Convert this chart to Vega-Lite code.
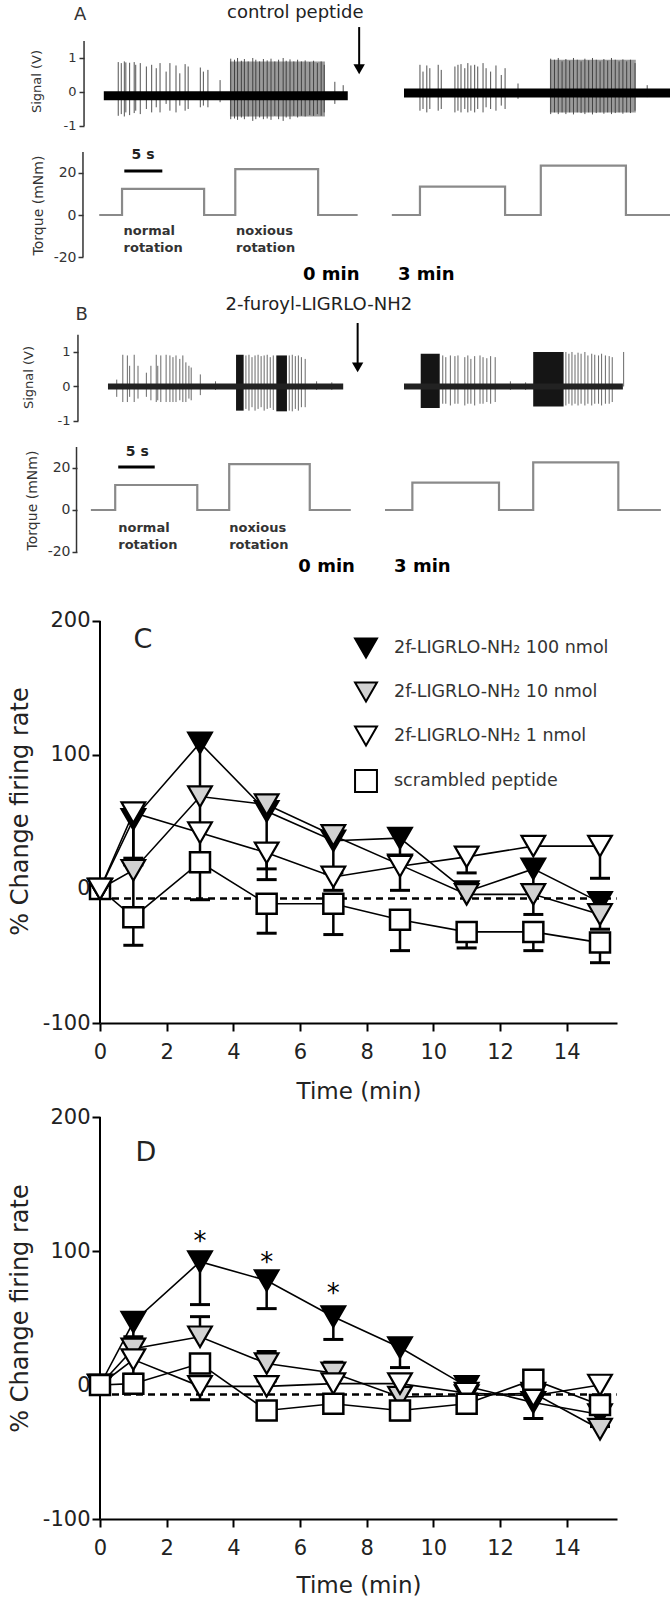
{
"$schema": "https://vega.github.io/schema/vega-lite/v6.json",
"padding": {"left": 8, "top": 0, "right": 0, "bottom": 0},
"background": "white",
"spacing": 0,
"bounds": "flush",
"config": {
  "font": "DejaVu Sans",
  "view": {"stroke": null},
  "axis": {"grid": false, "labelFont": "DejaVu Sans", "titleFont": "DejaVu Sans", "titleFontWeight": "normal", "labelFlush": false},
  "text": {"font": "DejaVu Sans"}
},
"resolve": {"scale": {"shape": "independent", "fill": "independent", "stroke": "independent"}, "legend": {"shape": "independent", "fill": "independent", "stroke": "independent"}},
"datasets": {
  "sigA": [
    {"t":2.4,"hi":0.88,"lo":-0.7},{"t":2.8,"hi":0.85,"lo":-0.65},{"t":3.2,"hi":0.9,"lo":-0.72},{"t":3.4,"hi":0.87,"lo":-0.6},{"t":3.9,"hi":0.86,"lo":-0.68},{"t":4.5,"hi":0.88,"lo":-0.62},{"t":4.7,"hi":0.8,"lo":-0.55},{"t":5.3,"hi":0.85,"lo":-0.65},{"t":6.1,"hi":0.75,"lo":-0.5},{"t":6.8,"hi":0.8,"lo":-0.6},{"t":7.4,"hi":0.7,"lo":-0.45},{"t":7.9,"hi":0.85,"lo":-0.6},{"t":8.7,"hi":0.6,"lo":-0.35},{"t":9.2,"hi":0.85,"lo":-0.55},{"t":10.0,"hi":0.78,"lo":-0.6},{"t":10.5,"hi":0.55,"lo":-0.4},{"t":11.2,"hi":0.82,"lo":-0.55},{"t":11.6,"hi":0.75,"lo":-0.5},{"t":13.2,"hi":0.72,"lo":-0.45},{"t":13.6,"hi":0.6,"lo":-0.4},{"t":14.2,"hi":0.65,"lo":-0.45},{"t":15.8,"hi":0.35,"lo":-0.3},
    {"t":17.2,"hi":0.98,"lo":-0.8},{"t":17.7,"hi":0.95,"lo":-0.78},{"t":18.1,"hi":1.0,"lo":-0.82},{"t":18.6,"hi":0.92,"lo":-0.75},{"t":19.0,"hi":0.97,"lo":-0.8},{"t":19.5,"hi":0.9,"lo":-0.72},{"t":20.1,"hi":1.0,"lo":-0.85},{"t":20.5,"hi":0.95,"lo":-0.8},{"t":21.0,"hi":0.9,"lo":-0.75},{"t":21.5,"hi":0.97,"lo":-0.8},{"t":22.0,"hi":0.93,"lo":-0.78},{"t":22.5,"hi":0.98,"lo":-0.82},{"t":23.0,"hi":0.9,"lo":-0.7},{"t":23.5,"hi":0.95,"lo":-0.8},{"t":24.1,"hi":1.0,"lo":-0.85},{"t":24.5,"hi":0.92,"lo":-0.75},{"t":25.0,"hi":0.96,"lo":-0.8},{"t":25.5,"hi":0.9,"lo":-0.7},{"t":26.0,"hi":0.95,"lo":-0.75},{"t":26.5,"hi":0.9,"lo":-0.7},{"t":27.0,"hi":0.93,"lo":-0.72},{"t":27.6,"hi":0.88,"lo":-0.68},{"t":28.1,"hi":0.92,"lo":-0.7},{"t":28.6,"hi":0.85,"lo":-0.65},{"t":29.1,"hi":0.9,"lo":-0.7},{"t":29.5,"hi":0.8,"lo":-0.6},{"t":30.9,"hi":0.3,"lo":-0.35},{"t":32.0,"hi":0.2,"lo":-0.2},
    {"t":42.1,"hi":0.8,"lo":-0.55},{"t":42.5,"hi":0.6,"lo":-0.5},{"t":43.0,"hi":0.78,"lo":-0.6},{"t":43.4,"hi":0.7,"lo":-0.5},{"t":44.5,"hi":0.8,"lo":-0.55},{"t":44.9,"hi":0.65,"lo":-0.5},{"t":46.7,"hi":0.75,"lo":-0.6},{"t":47.1,"hi":0.8,"lo":-0.55},{"t":47.5,"hi":0.82,"lo":-0.6},{"t":48.0,"hi":0.7,"lo":-0.5},{"t":48.4,"hi":0.85,"lo":-0.6},{"t":48.8,"hi":0.78,"lo":-0.55},{"t":49.3,"hi":0.8,"lo":-0.6},{"t":49.7,"hi":0.75,"lo":-0.5},{"t":50.4,"hi":0.85,"lo":-0.6},{"t":50.8,"hi":0.7,"lo":-0.45},{"t":51.4,"hi":0.6,"lo":-0.5},{"t":52.1,"hi":0.78,"lo":-0.55},{"t":52.8,"hi":0.5,"lo":-0.4},{"t":53.3,"hi":0.7,"lo":-0.5},{"t":55.0,"hi":0.25,"lo":-0.2},
    {"t":59.3,"hi":0.98,"lo":-0.65},{"t":59.8,"hi":0.95,"lo":-0.6},{"t":60.3,"hi":1.0,"lo":-0.65},{"t":60.8,"hi":0.9,"lo":-0.6},{"t":61.3,"hi":0.97,"lo":-0.65},{"t":61.8,"hi":0.92,"lo":-0.6},{"t":62.3,"hi":1.0,"lo":-0.66},{"t":62.8,"hi":0.95,"lo":-0.6},{"t":63.3,"hi":0.9,"lo":-0.62},{"t":63.8,"hi":0.98,"lo":-0.65},{"t":64.3,"hi":0.93,"lo":-0.6},{"t":64.8,"hi":1.0,"lo":-0.66},{"t":65.3,"hi":0.95,"lo":-0.62},{"t":65.8,"hi":0.9,"lo":-0.6},{"t":66.3,"hi":0.97,"lo":-0.64},{"t":66.8,"hi":0.92,"lo":-0.6},{"t":67.3,"hi":1.0,"lo":-0.65},{"t":67.8,"hi":0.95,"lo":-0.62},{"t":68.3,"hi":0.9,"lo":-0.6},{"t":68.8,"hi":0.96,"lo":-0.64},{"t":69.3,"hi":0.9,"lo":-0.6},{"t":69.8,"hi":0.95,"lo":-0.62},{"t":70.4,"hi":0.85,"lo":-0.55},{"t":72.0,"hi":0.2,"lo":-0.15}
  ],
  "burstA": [{"t":17.1,"t2":29.6,"hi":0.9,"lo":-0.72},{"t":59.2,"t2":70.5,"hi":0.95,"lo":-0.6}],
  "baseA": [{"t":0.5,"t2":32.6,"level":-0.11},{"t":40,"t2":75,"level":-0.03}],
  "torqueA": [{"seg":"L","t":-0.1,"tq":0},{"seg":"L","t":2.9,"tq":12.4},{"seg":"L","t":13.7,"tq":0},{"seg":"L","t":17.8,"tq":21.8},{"seg":"L","t":28.7,"tq":0},{"seg":"L","t":33.9,"tq":0},{"seg":"R","t":38.4,"tq":0},{"seg":"R","t":42.1,"tq":13.5},{"seg":"R","t":53.3,"tq":0},{"seg":"R","t":58.0,"tq":23.5},{"seg":"R","t":69.2,"tq":0},{"seg":"R","t":75,"tq":0}],
  "sigB": [
    {"t":2.2,"hi":0.2,"lo":-0.3},{"t":3.0,"hi":0.92,"lo":-0.45},{"t":3.6,"hi":0.9,"lo":-0.45},{"t":3.9,"hi":0.6,"lo":-0.3},{"t":4.5,"hi":0.92,"lo":-0.45},{"t":5.0,"hi":0.6,"lo":-0.35},{"t":6.1,"hi":0.4,"lo":-0.3},{"t":6.7,"hi":0.6,"lo":-0.4},{"t":7.4,"hi":0.92,"lo":-0.45},{"t":7.6,"hi":0.6,"lo":-0.4},{"t":8.0,"hi":0.9,"lo":-0.45},{"t":8.7,"hi":0.92,"lo":-0.45},{"t":9.2,"hi":0.9,"lo":-0.45},{"t":9.6,"hi":0.85,"lo":-0.45},{"t":10.0,"hi":0.9,"lo":-0.45},{"t":10.5,"hi":0.8,"lo":-0.4},{"t":10.9,"hi":0.9,"lo":-0.45},{"t":11.3,"hi":0.7,"lo":-0.45},{"t":11.7,"hi":0.6,"lo":-0.35},{"t":12.0,"hi":0.55,"lo":-0.4},{"t":13.2,"hi":0.35,"lo":-0.25},{"t":15.2,"hi":0.15,"lo":-0.1},
    {"t":19.2,"hi":0.9,"lo":-0.65},{"t":19.6,"hi":0.92,"lo":-0.7},{"t":20.0,"hi":0.85,"lo":-0.6},{"t":20.4,"hi":0.9,"lo":-0.7},{"t":20.8,"hi":0.92,"lo":-0.65},{"t":21.2,"hi":0.88,"lo":-0.6},{"t":21.6,"hi":0.9,"lo":-0.7},{"t":22.0,"hi":0.92,"lo":-0.65},{"t":22.4,"hi":0.85,"lo":-0.62},{"t":22.8,"hi":0.9,"lo":-0.68},{"t":24.9,"hi":0.9,"lo":-0.7},{"t":25.3,"hi":0.92,"lo":-0.72},{"t":25.7,"hi":0.88,"lo":-0.65},{"t":26.1,"hi":0.9,"lo":-0.7},{"t":26.5,"hi":0.85,"lo":-0.6},{"t":27.0,"hi":0.8,"lo":-0.6},{"t":28.5,"hi":0.15,"lo":-0.1},{"t":30.5,"hi":0.12,"lo":-0.1},
    {"t":45.1,"hi":0.9,"lo":-0.5},{"t":45.5,"hi":0.85,"lo":-0.5},{"t":46.1,"hi":0.9,"lo":-0.55},{"t":46.7,"hi":0.88,"lo":-0.5},{"t":47.1,"hi":0.9,"lo":-0.5},{"t":48.0,"hi":0.85,"lo":-0.55},{"t":48.4,"hi":0.9,"lo":-0.5},{"t":48.8,"hi":0.8,"lo":-0.5},{"t":49.3,"hi":0.88,"lo":-0.55},{"t":50.0,"hi":0.9,"lo":-0.5},{"t":50.4,"hi":0.85,"lo":-0.5},{"t":50.9,"hi":0.82,"lo":-0.45},{"t":51.4,"hi":0.88,"lo":-0.5},{"t":52.0,"hi":0.85,"lo":-0.45},{"t":54.0,"hi":0.15,"lo":-0.1},{"t":56.0,"hi":0.12,"lo":-0.1},
    {"t":61.3,"hi":1.0,"lo":-0.55},{"t":61.7,"hi":0.95,"lo":-0.5},{"t":62.1,"hi":1.0,"lo":-0.55},{"t":62.5,"hi":0.92,"lo":-0.5},{"t":62.9,"hi":0.98,"lo":-0.55},{"t":63.3,"hi":0.95,"lo":-0.5},{"t":63.8,"hi":1.0,"lo":-0.55},{"t":64.2,"hi":0.9,"lo":-0.5},{"t":64.7,"hi":0.95,"lo":-0.55},{"t":65.1,"hi":0.92,"lo":-0.5},{"t":65.6,"hi":0.9,"lo":-0.5},{"t":66.0,"hi":0.95,"lo":-0.55},{"t":66.5,"hi":0.9,"lo":-0.5},{"t":67.0,"hi":0.88,"lo":-0.5},{"t":67.4,"hi":0.85,"lo":-0.45},{"t":68.9,"hi":1.0,"lo":0}
  ],
  "burstB": [{"t":17.9,"t2":18.9,"hi":0.92,"lo":-0.7},{"t":23.2,"t2":24.6,"hi":0.9,"lo":-0.72},{"t":42.2,"t2":44.7,"hi":0.95,"lo":-0.62},{"t":57.0,"t2":61.0,"hi":1.0,"lo":-0.58}],
  "baseB": [{"t":1.05,"t2":32.0,"level":0},{"t":40,"t2":68.8,"level":0}],
  "torqueB": [{"seg":"L","t":-1.2,"tq":0},{"seg":"L","t":2.0,"tq":11.9},{"seg":"L","t":12.8,"tq":0},{"seg":"L","t":17.0,"tq":21.8},{"seg":"L","t":27.6,"tq":0},{"seg":"L","t":33.0,"tq":0},{"seg":"R","t":37.5,"tq":0},{"seg":"R","t":41.1,"tq":13},{"seg":"R","t":52.5,"tq":0},{"seg":"R","t":57.0,"tq":22.7},{"seg":"R","t":68.2,"tq":0},{"seg":"R","t":73.8,"tq":0}],
  "ratesC": [
    {"series":"2f-LIGRLO-NH₂ 100 nmol","t":0,"v":0},{"series":"2f-LIGRLO-NH₂ 100 nmol","t":1,"v":52},{"series":"2f-LIGRLO-NH₂ 100 nmol","t":3,"v":109},{"series":"2f-LIGRLO-NH₂ 100 nmol","t":5,"v":58},{"series":"2f-LIGRLO-NH₂ 100 nmol","t":7,"v":36},{"series":"2f-LIGRLO-NH₂ 100 nmol","t":9,"v":38},{"series":"2f-LIGRLO-NH₂ 100 nmol","t":11,"v":-2},{"series":"2f-LIGRLO-NH₂ 100 nmol","t":13,"v":15},{"series":"2f-LIGRLO-NH₂ 100 nmol","t":15,"v":-10},
    {"series":"2f-LIGRLO-NH₂ 10 nmol","t":0,"v":0},{"series":"2f-LIGRLO-NH₂ 10 nmol","t":1,"v":14},{"series":"2f-LIGRLO-NH₂ 10 nmol","t":3,"v":69},{"series":"2f-LIGRLO-NH₂ 10 nmol","t":5,"v":63},{"series":"2f-LIGRLO-NH₂ 10 nmol","t":7,"v":40},{"series":"2f-LIGRLO-NH₂ 10 nmol","t":9,"v":18},{"series":"2f-LIGRLO-NH₂ 10 nmol","t":11,"v":-4},{"series":"2f-LIGRLO-NH₂ 10 nmol","t":13,"v":-4},{"series":"2f-LIGRLO-NH₂ 10 nmol","t":15,"v":-19},
    {"series":"2f-LIGRLO-NH₂ 1 nmol","t":0,"v":0},{"series":"2f-LIGRLO-NH₂ 1 nmol","t":1,"v":57},{"series":"2f-LIGRLO-NH₂ 1 nmol","t":3,"v":42},{"series":"2f-LIGRLO-NH₂ 1 nmol","t":5,"v":27},{"series":"2f-LIGRLO-NH₂ 1 nmol","t":7,"v":9},{"series":"2f-LIGRLO-NH₂ 1 nmol","t":9,"v":17},{"series":"2f-LIGRLO-NH₂ 1 nmol","t":11,"v":24},{"series":"2f-LIGRLO-NH₂ 1 nmol","t":13,"v":32},{"series":"2f-LIGRLO-NH₂ 1 nmol","t":15,"v":32},
    {"series":"scrambled peptide","t":0,"v":0},{"series":"scrambled peptide","t":1,"v":-21},{"series":"scrambled peptide","t":3,"v":20},{"series":"scrambled peptide","t":5,"v":-11},{"series":"scrambled peptide","t":7,"v":-11},{"series":"scrambled peptide","t":9,"v":-23},{"series":"scrambled peptide","t":11,"v":-32},{"series":"scrambled peptide","t":13,"v":-32},{"series":"scrambled peptide","t":15,"v":-40}
  ],
  "errC": [
    {"series":"2f-LIGRLO-NH₂ 100 nmol","t":1,"v":52,"end":18},{"series":"2f-LIGRLO-NH₂ 100 nmol","t":3,"v":109,"end":-8},{"series":"2f-LIGRLO-NH₂ 100 nmol","t":5,"v":58,"end":7},{"series":"2f-LIGRLO-NH₂ 100 nmol","t":7,"v":36,"end":12},{"series":"2f-LIGRLO-NH₂ 100 nmol","t":9,"v":38,"end":-1},{"series":"2f-LIGRLO-NH₂ 100 nmol","t":13,"v":15,"end":-19},
    {"series":"2f-LIGRLO-NH₂ 10 nmol","t":1,"v":14,"end":-14},{"series":"2f-LIGRLO-NH₂ 10 nmol","t":9,"v":18,"end":24},{"series":"2f-LIGRLO-NH₂ 10 nmol","t":15,"v":-19,"end":-30},
    {"series":"2f-LIGRLO-NH₂ 1 nmol","t":1,"v":57,"end":23},{"series":"2f-LIGRLO-NH₂ 1 nmol","t":5,"v":27,"end":15},{"series":"2f-LIGRLO-NH₂ 1 nmol","t":7,"v":9,"end":-1},{"series":"2f-LIGRLO-NH₂ 1 nmol","t":11,"v":24,"end":12},{"series":"2f-LIGRLO-NH₂ 1 nmol","t":15,"v":32,"end":8},
    {"series":"scrambled peptide","t":1,"v":-21,"end":-42},{"series":"scrambled peptide","t":3,"v":20,"end":27},{"series":"scrambled peptide","t":3,"v":20,"end":13},{"series":"scrambled peptide","t":5,"v":-11,"end":-33},{"series":"scrambled peptide","t":7,"v":-11,"end":-34},{"series":"scrambled peptide","t":9,"v":-23,"end":-46},{"series":"scrambled peptide","t":11,"v":-32,"end":-44},{"series":"scrambled peptide","t":13,"v":-32,"end":-46},{"series":"scrambled peptide","t":15,"v":-40,"end":-55}
  ],
  "ratesD": [
    {"series":"2f-LIGRLO-NH₂ 100 nmol","t":0,"v":0},{"series":"2f-LIGRLO-NH₂ 100 nmol","t":1,"v":47},{"series":"2f-LIGRLO-NH₂ 100 nmol","t":3,"v":92},{"series":"2f-LIGRLO-NH₂ 100 nmol","t":5,"v":78},{"series":"2f-LIGRLO-NH₂ 100 nmol","t":7,"v":51},{"series":"2f-LIGRLO-NH₂ 100 nmol","t":9,"v":28},{"series":"2f-LIGRLO-NH₂ 100 nmol","t":11,"v":-1},{"series":"2f-LIGRLO-NH₂ 100 nmol","t":13,"v":-13},{"series":"2f-LIGRLO-NH₂ 100 nmol","t":15,"v":-22},
    {"series":"2f-LIGRLO-NH₂ 10 nmol","t":0,"v":0},{"series":"2f-LIGRLO-NH₂ 10 nmol","t":1,"v":27},{"series":"2f-LIGRLO-NH₂ 10 nmol","t":3,"v":36},{"series":"2f-LIGRLO-NH₂ 10 nmol","t":5,"v":16},{"series":"2f-LIGRLO-NH₂ 10 nmol","t":7,"v":9},{"series":"2f-LIGRLO-NH₂ 10 nmol","t":9,"v":-9},{"series":"2f-LIGRLO-NH₂ 10 nmol","t":11,"v":-8},{"series":"2f-LIGRLO-NH₂ 10 nmol","t":13,"v":-6},{"series":"2f-LIGRLO-NH₂ 10 nmol","t":15,"v":-33},
    {"series":"2f-LIGRLO-NH₂ 1 nmol","t":0,"v":0},{"series":"2f-LIGRLO-NH₂ 1 nmol","t":1,"v":19},{"series":"2f-LIGRLO-NH₂ 1 nmol","t":3,"v":-1},{"series":"2f-LIGRLO-NH₂ 1 nmol","t":5,"v":-1},{"series":"2f-LIGRLO-NH₂ 1 nmol","t":7,"v":1},{"series":"2f-LIGRLO-NH₂ 1 nmol","t":9,"v":1},{"series":"2f-LIGRLO-NH₂ 1 nmol","t":11,"v":-6},{"series":"2f-LIGRLO-NH₂ 1 nmol","t":13,"v":-8},{"series":"2f-LIGRLO-NH₂ 1 nmol","t":15,"v":0},
    {"series":"scrambled peptide","t":0,"v":0},{"series":"scrambled peptide","t":1,"v":1},{"series":"scrambled peptide","t":3,"v":16},{"series":"scrambled peptide","t":5,"v":-19},{"series":"scrambled peptide","t":7,"v":-14},{"series":"scrambled peptide","t":9,"v":-19},{"series":"scrambled peptide","t":11,"v":-14},{"series":"scrambled peptide","t":13,"v":4},{"series":"scrambled peptide","t":15,"v":-15}
  ],
  "errD": [
    {"series":"2f-LIGRLO-NH₂ 100 nmol","t":1,"v":47,"end":36},{"series":"2f-LIGRLO-NH₂ 100 nmol","t":3,"v":92,"end":60},{"series":"2f-LIGRLO-NH₂ 100 nmol","t":5,"v":78,"end":57},{"series":"2f-LIGRLO-NH₂ 100 nmol","t":7,"v":51,"end":34},{"series":"2f-LIGRLO-NH₂ 100 nmol","t":9,"v":28,"end":13},{"series":"2f-LIGRLO-NH₂ 100 nmol","t":11,"v":-1,"end":-21},{"series":"2f-LIGRLO-NH₂ 100 nmol","t":13,"v":-13,"end":-25},{"series":"2f-LIGRLO-NH₂ 100 nmol","t":15,"v":-22,"end":-31},
    {"series":"2f-LIGRLO-NH₂ 10 nmol","t":3,"v":36,"end":51},{"series":"2f-LIGRLO-NH₂ 10 nmol","t":5,"v":16,"end":25},{"series":"2f-LIGRLO-NH₂ 10 nmol","t":7,"v":9,"end":17},
    {"series":"2f-LIGRLO-NH₂ 1 nmol","t":1,"v":19,"end":8},{"series":"2f-LIGRLO-NH₂ 1 nmol","t":3,"v":-1,"end":-11},{"series":"2f-LIGRLO-NH₂ 1 nmol","t":5,"v":-1,"end":3},
    {"series":"scrambled peptide","t":9,"v":-19,"end":-26},{"series":"scrambled peptide","t":11,"v":-14,"end":-21}
  ],
  "starsD": [{"t":3,"v":101},{"t":5,"v":85},{"t":7,"v":62}]
},
"vconcat": [
  {
    "width": 570, "height": 140,
    "layer": [
      {"data": {"values": [{}]}, "mark": {"type": "rule", "color": "#333", "strokeWidth": 1.5},
       "encoding": {
         "x": {"datum": -2.1, "type": "quantitative", "scale": {"domain": [0, 75], "nice": false, "zero": false}, "axis": null},
         "y": {"datum": -1, "type": "quantitative", "scale": {"domain": [-1.412, 2.706], "nice": false, "zero": false},
               "axis": {"title": "Signal (V)", "values": [-1, 0, 1], "domain": false, "offset": 16, "tickSize": 5, "tickColor": "#333", "tickWidth": 1.5, "labelFontSize": 13, "labelColor": "#333", "labelPadding": 3, "labelExpr": "'' + datum.value", "titleFontSize": 13, "titleColor": "#333", "titleY": 81, "titlePadding": 20}},
         "y2": {"datum": 1.5}}},
      {"data": {"name": "burstA"}, "mark": {"type": "rect", "color": "#9a9a9a"},
       "encoding": {"x": {"field": "t", "type": "quantitative", "axis": null}, "x2": {"field": "t2"}, "y": {"field": "hi", "type": "quantitative"}, "y2": {"field": "lo"}}},
      {"data": {"name": "sigA"}, "mark": {"type": "rule", "color": "#333", "strokeWidth": 1, "opacity": 0.85},
       "encoding": {"x": {"field": "t", "type": "quantitative", "axis": null}, "y": {"field": "hi", "type": "quantitative"}, "y2": {"field": "lo"}}},
      {"data": {"name": "baseA"}, "mark": {"type": "rule", "color": "black", "strokeWidth": 9},
       "encoding": {"x": {"field": "t", "type": "quantitative", "axis": null}, "x2": {"field": "t2"}, "y": {"field": "level", "type": "quantitative"}}},
      {"data": {"values": [{}]}, "mark": {"type": "rule", "color": "black", "strokeWidth": 2},
       "encoding": {"x": {"datum": 34.1, "axis": null}, "y": {"datum": 1.91}, "y2": {"datum": 0.67}}},
      {"data": {"values": [{}]}, "mark": {"type": "point", "shape": "triangle-down", "filled": true, "size": 130, "color": "black", "opacity": 1},
       "encoding": {"x": {"datum": 34.1, "axis": null}, "y": {"datum": 0.67}}},
      {"data": {"values": [{}]}, "mark": {"type": "text", "text": "A", "fontSize": 18, "color": "#333", "align": "center", "baseline": "middle"},
       "encoding": {"x": {"datum": -2.6, "axis": null}, "y": {"datum": 2.26}}},
      {"data": {"values": [{}]}, "mark": {"type": "text", "text": "control peptide", "fontSize": 18, "color": "#222", "align": "center", "baseline": "middle"},
       "encoding": {"x": {"datum": 25.7, "axis": null}, "y": {"datum": 2.32}}}
    ]
  },
  {
    "width": 570, "height": 150,
    "layer": [
      {"data": {"values": [{}]}, "mark": {"type": "rule", "color": "#333", "strokeWidth": 1.5},
       "encoding": {
         "x": {"datum": -2.24, "type": "quantitative", "scale": {"domain": [0, 75], "nice": false, "zero": false}, "axis": null},
         "y": {"datum": -20, "type": "quantitative", "scale": {"domain": [-35.71, 35.71], "nice": false, "zero": false},
               "axis": {"title": "Torque (mNm)", "values": [-20, 0, 20], "domain": false, "offset": 17, "tickSize": 5, "tickColor": "#333", "tickWidth": 1.5, "labelFontSize": 14, "labelColor": "#333", "labelPadding": 2, "labelExpr": "'' + datum.value", "titleFontSize": 14, "titleColor": "#333", "titleY": 65, "titlePadding": 8}},
         "y2": {"datum": 30}}},
      {"data": {"name": "torqueA"}, "mark": {"type": "line", "color": "#8a8a8a", "strokeWidth": 2.2, "interpolate": "step-after"},
       "encoding": {"x": {"field": "t", "type": "quantitative", "axis": null}, "y": {"field": "tq", "type": "quantitative"}, "detail": {"field": "seg"}}},
      {"data": {"values": [{}]}, "mark": {"type": "rule", "color": "black", "strokeWidth": 3},
       "encoding": {"x": {"datum": 3.2, "axis": null}, "x2": {"datum": 8.2}, "y": {"datum": 21}}},
      {"data": {"values": [{}]}, "mark": {"type": "text", "text": "5 s", "fontSize": 14, "fontWeight": "bold", "color": "#222", "align": "center", "baseline": "middle"},
       "encoding": {"x": {"datum": 5.66, "axis": null}, "y": {"datum": 28.6}}},
      {"data": {"values": [{}]}, "mark": {"type": "text", "text": ["normal", "rotation"], "lineHeight": 17, "fontSize": 13, "fontWeight": "bold", "color": "#333", "align": "left", "baseline": "top"},
       "encoding": {"x": {"datum": 3.1, "axis": null}, "y": {"datum": -4.8}}},
      {"data": {"values": [{}]}, "mark": {"type": "text", "text": ["noxious", "rotation"], "lineHeight": 17, "fontSize": 13, "fontWeight": "bold", "color": "#333", "align": "left", "baseline": "top"},
       "encoding": {"x": {"datum": 17.9, "axis": null}, "y": {"datum": -4.8}}},
      {"data": {"values": [{}]}, "mark": {"type": "text", "text": "0 min", "fontSize": 18, "fontWeight": "bold", "color": "black", "align": "left", "baseline": "middle"},
       "encoding": {"x": {"datum": 26.7, "axis": null}, "y": {"datum": -28.6}}},
      {"data": {"values": [{}]}, "mark": {"type": "text", "text": "3 min", "fontSize": 18, "fontWeight": "bold", "color": "black", "align": "left", "baseline": "middle"},
       "encoding": {"x": {"datum": 39.2, "axis": null}, "y": {"datum": -28.6}}}
    ]
  },
  {
    "width": 570, "height": 142,
    "layer": [
      {"data": {"values": [{}]}, "mark": {"type": "rule", "color": "#333", "strokeWidth": 1.5},
       "encoding": {
         "x": {"datum": -2.9, "type": "quantitative", "scale": {"domain": [0, 75], "nice": false, "zero": false}, "axis": null},
         "y": {"datum": -1, "type": "quantitative", "scale": {"domain": [-1.319, 2.797], "nice": false, "zero": false},
               "axis": {"title": "Signal (V)", "values": [-1, 0, 1], "domain": false, "offset": 22, "tickSize": 5, "tickColor": "#333", "tickWidth": 1.5, "labelFontSize": 13, "labelColor": "#333", "labelPadding": 3, "labelExpr": "'' + datum.value", "titleFontSize": 13, "titleColor": "#333", "titleY": 87, "titlePadding": 22}},
         "y2": {"datum": 1.5}}},
      {"data": {"name": "burstB"}, "mark": {"type": "rect", "color": "#151515"},
       "encoding": {"x": {"field": "t", "type": "quantitative", "axis": null}, "x2": {"field": "t2"}, "y": {"field": "hi", "type": "quantitative"}, "y2": {"field": "lo"}}},
      {"data": {"name": "sigB"}, "mark": {"type": "rule", "color": "#444", "strokeWidth": 1, "opacity": 0.8},
       "encoding": {"x": {"field": "t", "type": "quantitative", "axis": null}, "y": {"field": "hi", "type": "quantitative"}, "y2": {"field": "lo"}}},
      {"data": {"name": "baseB"}, "mark": {"type": "rule", "color": "#222", "strokeWidth": 6},
       "encoding": {"x": {"field": "t", "type": "quantitative", "axis": null}, "x2": {"field": "t2"}, "y": {"field": "level", "type": "quantitative"}}},
      {"data": {"values": [{}]}, "mark": {"type": "rule", "color": "black", "strokeWidth": 2},
       "encoding": {"x": {"datum": 33.9, "axis": null}, "y": {"datum": 1.84}, "y2": {"datum": 0.556}}},
      {"data": {"values": [{}]}, "mark": {"type": "point", "shape": "triangle-down", "filled": true, "size": 130, "color": "black", "opacity": 1},
       "encoding": {"x": {"datum": 33.9, "axis": null}, "y": {"datum": 0.556}}},
      {"data": {"values": [{}]}, "mark": {"type": "text", "text": "B", "fontSize": 18, "color": "#333", "align": "center", "baseline": "middle"},
       "encoding": {"x": {"datum": -2.4, "axis": null}, "y": {"datum": 2.07}}},
      {"data": {"values": [{}]}, "mark": {"type": "text", "text": "2-furoyl-LIGRLO-NH2", "fontSize": 18, "color": "#222", "align": "center", "baseline": "middle"},
       "encoding": {"x": {"datum": 28.8, "axis": null}, "y": {"datum": 2.36}}}
    ]
  },
  {
    "width": 570, "height": 168,
    "layer": [
      {"data": {"values": [{}]}, "mark": {"type": "rule", "color": "#333", "strokeWidth": 1.5},
       "encoding": {
         "x": {"datum": -3.09, "type": "quantitative", "scale": {"domain": [0, 75], "nice": false, "zero": false}, "axis": null},
         "y": {"datum": -20, "type": "quantitative", "scale": {"domain": [-42.86, 37.14], "nice": false, "zero": false},
               "axis": {"title": "Torque (mNm)", "values": [-20, 0, 20], "domain": false, "offset": 23, "tickSize": 5, "tickColor": "#333", "tickWidth": 1.5, "labelFontSize": 14, "labelColor": "#333", "labelPadding": 2, "labelExpr": "'' + datum.value", "titleFontSize": 14, "titleColor": "#333", "titleY": 68, "titlePadding": 8}},
         "y2": {"datum": 30}}},
      {"data": {"name": "torqueB"}, "mark": {"type": "line", "color": "#8a8a8a", "strokeWidth": 2.2, "interpolate": "step-after"},
       "encoding": {"x": {"field": "t", "type": "quantitative", "axis": null}, "y": {"field": "tq", "type": "quantitative"}, "detail": {"field": "seg"}}},
      {"data": {"values": [{}]}, "mark": {"type": "rule", "color": "black", "strokeWidth": 3},
       "encoding": {"x": {"datum": 2.4, "axis": null}, "x2": {"datum": 7.2}, "y": {"datum": 20.5}}},
      {"data": {"values": [{}]}, "mark": {"type": "text", "text": "5 s", "fontSize": 14, "fontWeight": "bold", "color": "#222", "align": "center", "baseline": "middle"},
       "encoding": {"x": {"datum": 4.9, "axis": null}, "y": {"datum": 27.8}}},
      {"data": {"values": [{}]}, "mark": {"type": "text", "text": ["normal", "rotation"], "lineHeight": 17, "fontSize": 13, "fontWeight": "bold", "color": "#333", "align": "left", "baseline": "top"},
       "encoding": {"x": {"datum": 2.4, "axis": null}, "y": {"datum": -5.7}}},
      {"data": {"values": [{}]}, "mark": {"type": "text", "text": ["noxious", "rotation"], "lineHeight": 17, "fontSize": 13, "fontWeight": "bold", "color": "#333", "align": "left", "baseline": "top"},
       "encoding": {"x": {"datum": 17.0, "axis": null}, "y": {"datum": -5.7}}},
      {"data": {"values": [{}]}, "mark": {"type": "text", "text": "0 min", "fontSize": 18, "fontWeight": "bold", "color": "black", "align": "left", "baseline": "middle"},
       "encoding": {"x": {"datum": 26.1, "axis": null}, "y": {"datum": -27.1}}},
      {"data": {"values": [{}]}, "mark": {"type": "text", "text": "3 min", "fontSize": 18, "fontWeight": "bold", "color": "black", "align": "left", "baseline": "middle"},
       "encoding": {"x": {"datum": 38.7, "axis": null}, "y": {"datum": -27.1}}}
    ]
  },
  {
    "width": 517, "height": 423,
    "layer": [
      {"data": {"values": [{}]}, "mark": {"type": "rule", "color": "black", "strokeWidth": 2},
       "encoding": {"x": {"datum": 0}, "y": {"datum": -100}, "y2": {"datum": 200}}},
      {"data": {"values": [{}]}, "mark": {"type": "rule", "color": "black", "strokeWidth": 2.5, "strokeDash": [7, 5]},
       "encoding": {"x": {"datum": 0}, "x2": {"datum": 15.5}, "y": {"datum": -7}}},
      {"data": {"name": "ratesC"}, "mark": {"type": "line", "color": "black", "strokeWidth": 1.6},
       "encoding": {
         "x": {"field": "t", "type": "quantitative", "scale": {"domain": [0, 15.51], "nice": false, "zero": false},
               "axis": {"title": "Time (min)", "values": [0, 2, 4, 6, 8, 10, 12, 14], "domainWidth": 2, "domainColor": "black", "tickSize": 8, "tickWidth": 2, "tickColor": "black", "labelFontSize": 21, "labelColor": "#222", "labelPadding": 10, "labelFlush": false, "titleFontSize": 23, "titleColor": "#222", "titlePadding": 18}},
         "y": {"field": "v", "type": "quantitative", "scale": {"domain": [-100, 215.67], "nice": false, "zero": false},
               "axis": {"title": "% Change firing rate", "values": [-100, 0, 100, 200], "domain": false, "tickSize": 8, "tickWidth": 2, "tickColor": "black", "labelFontSize": 21, "labelColor": "#222", "labelPadding": 2, "labelExpr": "'' + datum.value", "titleFontSize": 24, "titleColor": "#222", "titlePadding": 10, "titleY": 211}},
         "detail": {"field": "series"}}},
      {"data": {"name": "errC"}, "mark": {"type": "rule", "color": "black", "strokeWidth": 2.5},
       "encoding": {"x": {"field": "t", "type": "quantitative"}, "y": {"field": "v", "type": "quantitative"}, "y2": {"field": "end"}}},
      {"data": {"name": "errC"}, "mark": {"type": "tick", "orient": "horizontal", "size": 20, "thickness": 3, "color": "black", "opacity": 1},
       "encoding": {"x": {"field": "t", "type": "quantitative"}, "y": {"field": "end", "type": "quantitative"}}},
      {"data": {"name": "ratesC"}, "transform": [{"filter": "datum.series === 'scrambled peptide'"}],
       "mark": {"type": "point", "filled": true, "strokeWidth": 2.5, "size": 400, "opacity": 1},
       "encoding": {
         "x": {"field": "t", "type": "quantitative"}, "y": {"field": "v", "type": "quantitative"},
         "shape": {"field": "series", "type": "nominal"},
         "fill": {"field": "series", "type": "nominal"},
         "stroke": {"field": "series", "type": "nominal"}}},
      {"data": {"name": "ratesC"}, "transform": [{"filter": "datum.series !== 'scrambled peptide'"}],
       "mark": {"type": "point", "filled": true, "strokeWidth": 2.2, "size": 560, "opacity": 1},
       "encoding": {
         "x": {"field": "t", "type": "quantitative"}, "y": {"field": "v", "type": "quantitative"},
         "shape": {"field": "series", "type": "nominal",
                   "scale": {"domain": ["2f-LIGRLO-NH₂ 100 nmol", "2f-LIGRLO-NH₂ 10 nmol", "2f-LIGRLO-NH₂ 1 nmol", "scrambled peptide"], "range": ["triangle-down", "triangle-down", "triangle-down", "square"]},
                   "legend": {"title": null, "orient": "none", "legendX": 254, "legendY": 36, "direction": "vertical", "symbolSize": 480, "symbolStrokeWidth": 2, "labelFont": "DejaVu Sans", "labelFontSize": 17.5, "labelColor": "#333", "labelOffset": 16, "rowPadding": 16, "labelLimit": 400}},
         "fill": {"field": "series", "type": "nominal",
                  "scale": {"domain": ["2f-LIGRLO-NH₂ 100 nmol", "2f-LIGRLO-NH₂ 10 nmol", "2f-LIGRLO-NH₂ 1 nmol", "scrambled peptide"], "range": ["black", "#d2d2d2", "white", "white"]},
                  "legend": {"title": null, "orient": "none", "legendX": 254, "legendY": 36, "direction": "vertical", "symbolSize": 480, "symbolStrokeWidth": 2, "labelFont": "DejaVu Sans", "labelFontSize": 17.5, "labelColor": "#333", "labelOffset": 16, "rowPadding": 16, "labelLimit": 400}},
         "stroke": {"field": "series", "type": "nominal",
                  "scale": {"domain": ["2f-LIGRLO-NH₂ 100 nmol", "2f-LIGRLO-NH₂ 10 nmol", "2f-LIGRLO-NH₂ 1 nmol", "scrambled peptide"], "range": ["black", "black", "black", "black"]},
                  "legend": {"title": null, "orient": "none", "legendX": 254, "legendY": 36, "direction": "vertical", "symbolSize": 480, "symbolStrokeWidth": 2, "labelFont": "DejaVu Sans", "labelFontSize": 17.5, "labelColor": "#333", "labelOffset": 16, "rowPadding": 16, "labelLimit": 400}}}},
      {"data": {"values": [{}]}, "mark": {"type": "text", "text": "C", "fontSize": 27, "color": "#222", "align": "center", "baseline": "middle"},
       "encoding": {"x": {"datum": 1.29}, "y": {"datum": 185.8}}}
    ]
  },
  {
    "width": 517, "height": 496,
    "layer": [
      {"data": {"values": [{}]}, "mark": {"type": "rule", "color": "black", "strokeWidth": 2},
       "encoding": {"x": {"datum": 0}, "y": {"datum": -100}, "y2": {"datum": 200}}},
      {"data": {"values": [{}]}, "mark": {"type": "rule", "color": "black", "strokeWidth": 2.5, "strokeDash": [7, 5]},
       "encoding": {"x": {"datum": 0}, "x2": {"datum": 15.5}, "y": {"datum": -7}}},
      {"data": {"name": "ratesD"}, "mark": {"type": "line", "color": "black", "strokeWidth": 1.6},
       "encoding": {
         "x": {"field": "t", "type": "quantitative", "scale": {"domain": [0, 15.51], "nice": false, "zero": false},
               "axis": {"title": "Time (min)", "values": [0, 2, 4, 6, 8, 10, 12, 14], "domainWidth": 2, "domainColor": "black", "tickSize": 8, "tickWidth": 2, "tickColor": "black", "labelFontSize": 21, "labelColor": "#222", "labelPadding": 10, "labelFlush": false, "titleFontSize": 23, "titleColor": "#222", "titlePadding": 16}},
         "y": {"field": "v", "type": "quantitative", "scale": {"domain": [-100, 270.15], "nice": false, "zero": false},
               "axis": {"title": "% Change firing rate", "values": [-100, 0, 100, 200], "domain": false, "tickSize": 8, "tickWidth": 2, "tickColor": "black", "labelFontSize": 21, "labelColor": "#222", "labelPadding": 2, "labelExpr": "'' + datum.value", "titleFontSize": 24, "titleColor": "#222", "titlePadding": 10, "titleY": 285}},
         "detail": {"field": "series"}}},
      {"data": {"name": "errD"}, "mark": {"type": "rule", "color": "black", "strokeWidth": 2.5},
       "encoding": {"x": {"field": "t", "type": "quantitative"}, "y": {"field": "v", "type": "quantitative"}, "y2": {"field": "end"}}},
      {"data": {"name": "errD"}, "mark": {"type": "tick", "orient": "horizontal", "size": 20, "thickness": 3, "color": "black", "opacity": 1},
       "encoding": {"x": {"field": "t", "type": "quantitative"}, "y": {"field": "end", "type": "quantitative"}}},
      {"data": {"name": "ratesD"}, "transform": [{"filter": "datum.series !== 'scrambled peptide'"}],
       "mark": {"type": "point", "filled": true, "strokeWidth": 2.2, "size": 560, "opacity": 1},
       "encoding": {
         "x": {"field": "t", "type": "quantitative"}, "y": {"field": "v", "type": "quantitative"},
         "shape": {"field": "series", "type": "nominal",
                   "scale": {"domain": ["2f-LIGRLO-NH₂ 100 nmol", "2f-LIGRLO-NH₂ 10 nmol", "2f-LIGRLO-NH₂ 1 nmol", "scrambled peptide"], "range": ["triangle-down", "triangle-down", "triangle-down", "square"]}, "legend": null},
         "fill": {"field": "series", "type": "nominal",
                  "scale": {"domain": ["2f-LIGRLO-NH₂ 100 nmol", "2f-LIGRLO-NH₂ 10 nmol", "2f-LIGRLO-NH₂ 1 nmol", "scrambled peptide"], "range": ["black", "#d2d2d2", "white", "white"]}, "legend": null},
         "stroke": {"field": "series", "type": "nominal",
                  "scale": {"domain": ["2f-LIGRLO-NH₂ 100 nmol", "2f-LIGRLO-NH₂ 10 nmol", "2f-LIGRLO-NH₂ 1 nmol", "scrambled peptide"], "range": ["black", "black", "black", "black"]}, "legend": null}}},
      {"data": {"name": "ratesD"}, "transform": [{"filter": "datum.series === 'scrambled peptide'"}],
       "mark": {"type": "point", "filled": true, "strokeWidth": 2.5, "size": 400, "opacity": 1},
       "encoding": {
         "x": {"field": "t", "type": "quantitative"}, "y": {"field": "v", "type": "quantitative"},
         "shape": {"field": "series", "type": "nominal", "legend": null},
         "fill": {"field": "series", "type": "nominal", "legend": null},
         "stroke": {"field": "series", "type": "nominal", "legend": null}}},
      {"data": {"name": "starsD"}, "mark": {"type": "text", "text": "*", "fontSize": 26, "color": "black", "align": "center", "baseline": "alphabetic"},
       "encoding": {"x": {"field": "t", "type": "quantitative"}, "y": {"field": "v", "type": "quantitative"}}},
      {"data": {"values": [{}]}, "mark": {"type": "text", "text": "D", "fontSize": 27, "color": "#222", "align": "center", "baseline": "middle"},
       "encoding": {"x": {"datum": 1.38}, "y": {"datum": 173}}}
    ]
  }
]
}
